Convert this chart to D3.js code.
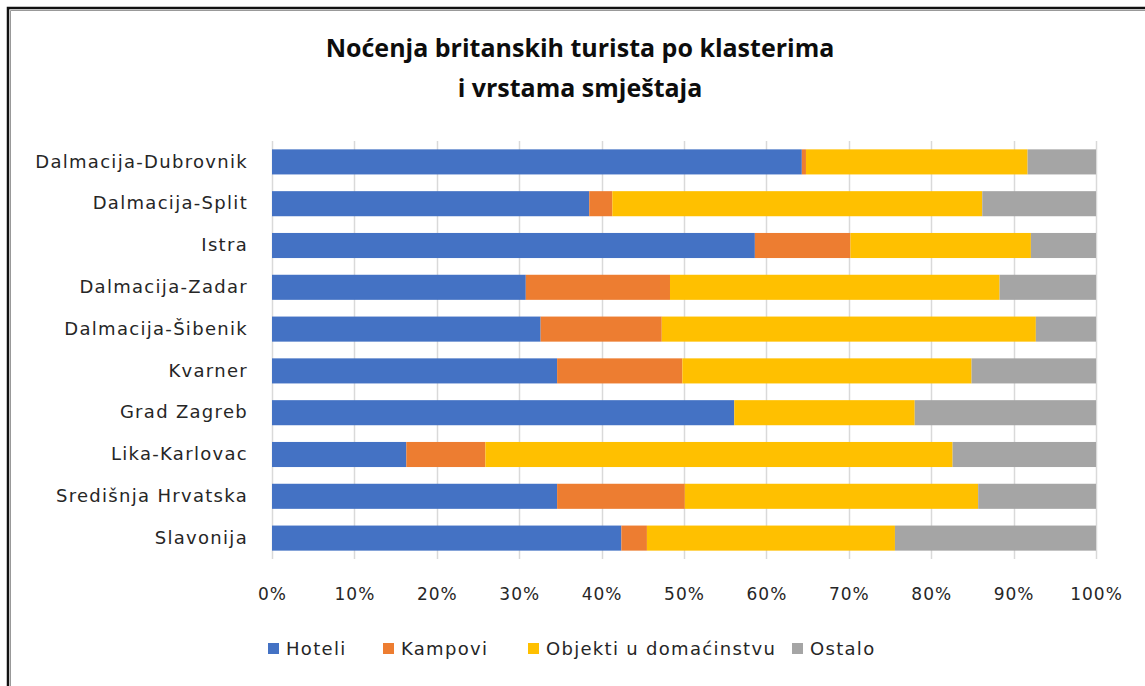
<!DOCTYPE html>
<html>
<head>
<meta charset="utf-8">
<script src="https://cdn.jsdelivr.net/npm/d3@7"></script>
<style>
  body { margin: 0; background: #fff; }
  svg { display: block; }
</style>
</head>
<body>
<svg id="chart"></svg>
<script>
// regions, top to bottom
const categories = [
  "Dalmacija-Dubrovnik", "Dalmacija-Split", "Istra", "Dalmacija-Zadar",
  "Dalmacija-Šibenik", "Kvarner", "Grad Zagreb", "Lika-Karlovac",
  "Središnja Hrvatska", "Slavonija"
];
const seriesNames = ["Hoteli", "Kampovi", "Objekti u domaćinstvu", "Ostalo"];
// shares in %
const hoteli  = [64.3, 38.5, 58.6, 30.8, 32.6, 34.6, 56.1, 16.3, 34.6, 42.4];
const kampovi = [0.5, 2.8, 11.6, 17.5, 14.7, 15.2, 0, 9.6, 15.5, 3.1];
const objekti = [26.9, 44.9, 21.9, 40.0, 45.4, 35.1, 21.9, 56.7, 35.6, 30.1];
const ostalo  = [8.3, 13.8, 7.9, 11.7, 7.3, 15.1, 22.0, 17.4, 14.3, 24.4];
const tickValues = [0, 10, 20, 30, 40, 50, 60, 70, 80, 90, 100];
const colors = ["#4472C4", "#ED7D31", "#FFC000", "#A5A5A5"];

const width = 1145, height = 686;
const margin = { top: 141, right: 49, bottom: 127, left: 272 };

const rows = categories.map((c, i) => ({
  cat: c,
  "Hoteli": hoteli[i],
  "Kampovi": kampovi[i],
  "Objekti u domaćinstvu": objekti[i],
  "Ostalo": ostalo[i]
}));

const svg = d3.select("#chart").attr("width", width).attr("height", height);

// frame (top and left edge only, like the screenshot)
svg.append("path").attr("d", `M8,${height} V8 H${width}`)
  .attr("fill", "none").attr("stroke", "#111").attr("stroke-width", 2.5);
svg.append("path").attr("d", `M10.5,${height} V10.5 H${width}`)
  .attr("fill", "none").attr("stroke", "#999").attr("stroke-width", 1);

const x = d3.scaleLinear().domain([0, 100]).range([margin.left, width - margin.right]);
const y = d3.scaleBand().domain(categories)
  .range([margin.top, height - margin.bottom]).paddingInner(0.4).paddingOuter(0.2);

// gridlines
svg.append("g")
  .selectAll("line")
  .data(tickValues)
  .join("line")
  .attr("x1", d => Math.round(x(d)) + 0.5).attr("x2", d => Math.round(x(d)) + 0.5)
  .attr("y1", margin.top).attr("y2", height - margin.bottom)
  .attr("stroke", "#d9d9d9").attr("stroke-width", 1.5);

const stack = d3.stack().keys(seriesNames)(rows);

svg.append("g")
  .selectAll("g")
  .data(stack)
  .join("g")
  .attr("fill", (d, i) => colors[i])
  .selectAll("rect")
  .data(d => d)
  .join("rect")
  .attr("x", d => x(d[0]))
  .attr("width", d => Math.max(0, x(d[1]) - x(d[0])))
  .attr("y", d => y(d.data.cat))
  .attr("height", y.bandwidth());

// category axis
const yAxis = svg.append("g")
  .attr("transform", `translate(${margin.left},0)`)
  .call(d3.axisLeft(y).tickSize(0).tickPadding(24));
yAxis.select(".domain").remove();
yAxis.selectAll(".tick text")
  .attr("fill", "#262626")
  .style("font-family", "'DejaVu Sans', sans-serif")
  .style("font-size", "18px")
  .style("letter-spacing", "1.3px");

// value axis
const xAxis = svg.append("g")
  .attr("transform", `translate(0,${height - margin.bottom})`)
  .call(d3.axisBottom(x).tickValues(tickValues).tickSize(0).tickPadding(29)
    .tickFormat(d => d + "%"));
xAxis.select(".domain").remove();
xAxis.selectAll(".tick text")
  .attr("fill", "#262626")
  .style("font-family", "'DejaVu Sans', sans-serif")
  .style("font-size", "17px")
  .style("letter-spacing", "1px");

// title
const title = svg.append("text")
  .attr("text-anchor", "middle")
  .attr("fill", "#0d0d0d")
  .style("font-family", "'Liberation Sans Narrow', 'Open Sans', sans-serif")
  .style("font-weight", "bold")
  .style("font-size", "25px");
title.append("tspan").attr("x", 580).attr("y", 57).text("Noćenja britanskih turista po klasterima");
title.append("tspan").attr("x", 580).attr("y", 97).text("i vrstama smještaja");

// legend
const legendX = [268, 383, 528, 792];
const legend = svg.append("g")
  .selectAll("g")
  .data(seriesNames)
  .join("g")
  .attr("transform", (d, i) => `translate(${legendX[i]},643)`);
legend.append("rect").attr("width", 11).attr("height", 11).attr("fill", (d, i) => colors[i]);
legend.append("text")
  .attr("x", 18).attr("y", 12)
  .attr("fill", "#262626")
  .style("font-family", "'DejaVu Sans', sans-serif")
  .style("font-size", "18px")
  .style("letter-spacing", "1.3px")
  .text(d => d);
</script>
</body>
</html>
